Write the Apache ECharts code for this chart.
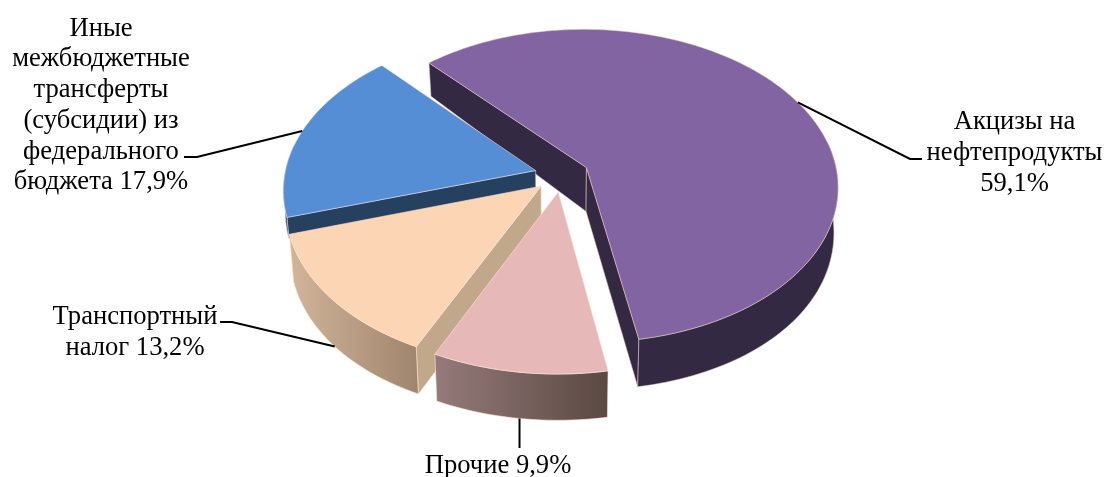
<!DOCTYPE html>
<html>
<head>
<meta charset="utf-8">
<style>html,body{margin:0;padding:0;background:#fff}#c{width:1105px;height:477px}</style>
<script src="https://cdn.jsdelivr.net/npm/echarts@6/dist/echarts.min.js"></script>
</head>
<body>
<div id="c"></div>
<script>
// DATA (clockwise from the purple slice)
const categories = ["Акцизы на\nнефтепродукты\n59,1%", "Прочие 9,9%", "Транспортный\nналог 13,2%", "Иные\nмежбюджетные\nтрансферты\n(субсидии) из\nфедерального\nбюджета 17,9%"];
const values = [59.1, 9.9, 13.2, 17.9];

// STYLE / LAYOUT
const topColors = ["#8364a3", "#e6b9b8", "#fcd5b5", "#558ed5"];
const wallLeft = ["#332943", "#957b7b", "#d2b59a", "#26415f"];
const wallRight = ["#332943", "#5a4842", "#9f846d", "#26415f"];
const radialColors = ["#332943", "#7a6463", "#c2a88a", "#26415f"];
const edgeColors = ["rgba(235,205,190,.75)", "rgba(252,225,205,.9)", "rgba(252,225,205,.9)", "rgba(235,225,225,.75)"];
const wallFrac = [1, 1, 1, .45];
const drawOrder = [0, 3, 2, 1];
const labelLayout = [
  {x: 1014.5, y: 153, elbow: [910, 159], end: [922, 159], plane: "top"},
  {x: 498, y: 466, elbow: [null, 436], end: [null, 448], plane: "bot"},
  {x: 135, y: 332.5, elbow: [232, 322], end: [220, 322], plane: "bot"},
  {x: 101, y: 105.5, elbow: [197, 157], end: [184, 157], plane: "top"}
];
const G = {cx: 562, cy: 175, R: 251, e: 27.4, k: .622, p: .00047, cyB: 219.4, kB: .662, pB: .0003, xB: .985, start: -132.6};

const rad = d => d * Math.PI / 180;
const total = values.reduce((a, b) => a + b, 0);
function projTop(X, Y) {
  const s = 1 / (1 - Y * G.p);
  return [G.cx + X * s, G.cy + G.k * Y * s];
}
function projBot(X, Y) {
  const s = 1 / (1 - Y * G.p), sb = 1 / (1 - Y * G.pB);
  return [G.cx + X * s * G.xB, G.cyB + G.kB * Y * sb];
}
let acc = G.start;
const slices = values.map(v => {
  const a0 = acc, a1 = acc + v / total * 360;
  acc = a1;
  const m = rad((a0 + a1) / 2);
  return {a0, a1, mid: m, ox: G.e * Math.cos(m), oy: G.e * Math.sin(m)};
});
function pt(sl, deg, plane) {
  const f = plane === "top" ? projTop : projBot;
  return f(sl.ox + G.R * Math.cos(rad(deg)), sl.oy + G.R * Math.sin(rad(deg)));
}
function apex(sl, plane) {
  return (plane === "top" ? projTop : projBot)(sl.ox, sl.oy);
}
const lerp = (a, b, t) => [a[0] + (b[0] - a[0]) * t, a[1] + (b[1] - a[1]) * t];

function renderItem(params) {
  const i = params.dataIndex, idx = drawOrder[i], sl = slices[idx];
  const base = (i + 1) * 10, frac = wallFrac[idx];
  const edge = edgeColors[idx];
  const sweep = sl.a1 - sl.a0;
  const n = Math.ceil(sweep / 1.5);
  const topArc = [], wallTop = [], wallBot = [];
  for (let j = 0; j <= n; j++) {
    const d = sl.a0 + sweep * j / n;
    const t = pt(sl, d, "top");
    topArc.push(t);
    // only the part of the rim that faces the viewer has a wall
    const norm = ((d % 360) + 360) % 360;
    if (norm > 350 || norm < 190) {
      wallTop.push(t);
      wallBot.push(lerp(t, pt(sl, d, "bot"), frac));
    }
  }
  const children = [];
  const poly = (points, fill, z2) => children.push({
    type: "polygon", z2, shape: {points},
    style: {fill, stroke: edge, lineWidth: .7}
  });
  const grad = new echarts.graphic.LinearGradient(0, 0, 1, 0, [
    {offset: 0, color: wallLeft[idx]}, {offset: 1, color: wallRight[idx]}
  ]);
  const tA = apex(sl, "top"), bA = lerp(tA, apex(sl, "bot"), frac);
  const b0 = lerp(topArc[0], pt(sl, sl.a0, "bot"), frac);
  const b1 = lerp(topArc[n], pt(sl, sl.a1, "bot"), frac);
  // radial faces, only when their outward normal points to the viewer
  if (Math.sin(rad(sl.a0 - 90)) > 0) poly([topArc[0], tA, bA, b0], radialColors[idx], base);
  if (Math.sin(rad(sl.a1 + 90)) > 0) poly([tA, topArc[n], b1, bA], radialColors[idx], base);
  if (wallTop.length > 1) poly(wallTop.concat(wallBot.slice().reverse()), grad, base + 1);
  poly([tA].concat(topArc), topColors[idx], base + 2);
  // leader line and label
  const L = labelLayout[idx];
  const anchor = pt(sl, (sl.a0 + sl.a1) / 2, L.plane);
  const fix = p => [p[0] === null ? anchor[0] : p[0], p[1]];
  children.push({
    type: "polyline", z2: 100, shape: {points: [anchor, fix(L.elbow), fix(L.end)]},
    style: {stroke: "#000", lineWidth: 2, fill: null}
  });
  children.push({
    type: "text", z2: 101,
    style: {
      text: categories[idx], x: L.x, y: L.y, align: "center", verticalAlign: "middle",
      font: "26.6px 'Liberation Serif'", lineHeight: 30.7, fill: "#000"
    }
  });
  return {type: "group", children};
}

const chart = echarts.init(document.getElementById("c"), null, {renderer: "canvas"});
chart.setOption({
  animation: false,
  backgroundColor: "#fff",
  series: [{
    type: "custom",
    coordinateSystem: "none",
    renderItem,
    data: drawOrder.map(i => values[i]),
    silent: true
  }]
});
</script>
</body>
</html>
